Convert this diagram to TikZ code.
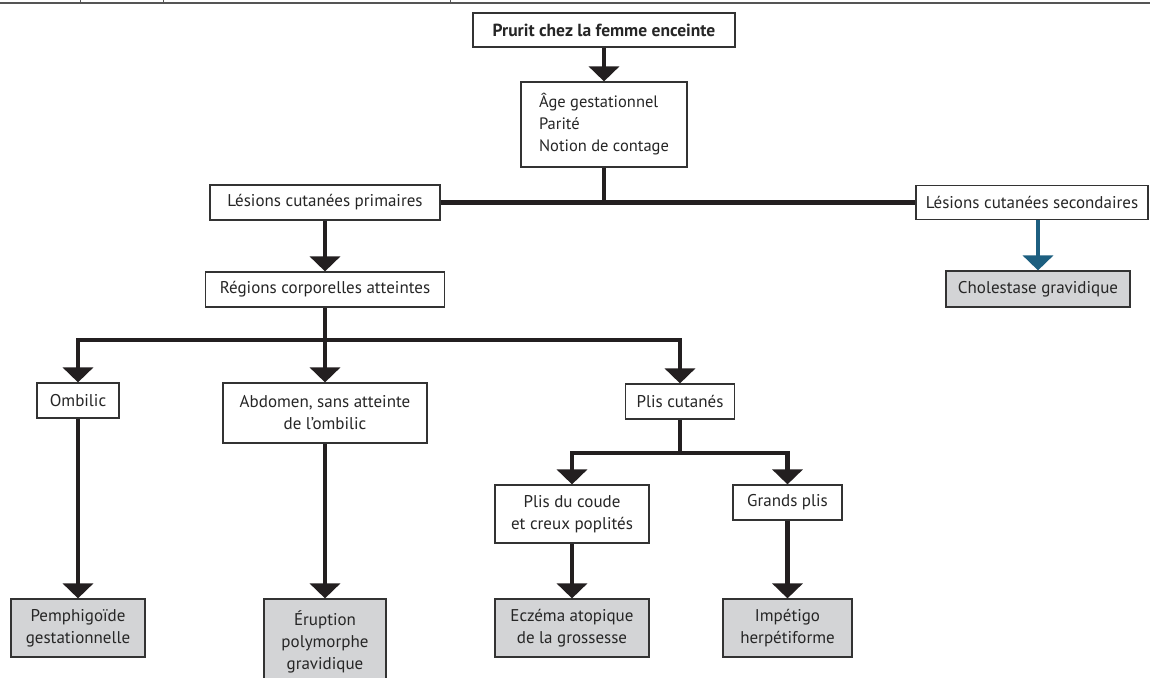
\documentclass[tikz,border=0pt]{standalone}
\usepackage{fontspec}
\setmainfont{PT Sans}
\usetikzlibrary{arrows.meta}
\definecolor{conn}{HTML}{231F20}
\definecolor{boxline}{HTML}{333333}
\definecolor{greyfill}{HTML}{D3D4D6}
\definecolor{bluearr}{HTML}{1D5F80}
\definecolor{rule}{HTML}{555555}
\begin{document}
\begin{tikzpicture}[x=1pt,y=-1pt,
  every node/.style={font=\fontsize{17}{22}\selectfont, text=black!85},
  box/.style={draw=boxline, line width=1.2pt, fill=white, inner sep=2pt, align=center},
  leaf/.style={box, fill=greyfill},
  link/.style={draw=conn, line width=4.5pt, line join=miter},
  arr/.style={link, -{Triangle[width=30pt,length=15pt]}},
  bluearrow/.style={draw=bluearr, line width=4.5pt, -{Triangle[width=30pt,length=15pt]}}
]
\useasboundingbox (0,0) rectangle (1150,677);
% top rule
\draw[rule, line width=1.5pt] (0,3) -- (1150,3);
\foreach \x in {80,163,450} \draw[rule, line width=1pt] (\x,0) -- (\x,3);

\node[box, minimum width=262pt, minimum height=34pt, font=\fontsize{17.5}{22}\selectfont\bfseries] (t) at (604,30) {Prurit chez la femme enceinte};
\node[box, minimum width=166pt, minimum height=85pt, align=left, font=\fontsize{16.5}{22}\selectfont] (b2) at (604,124.5) {Âge gestationnel\\Parité\\Notion de contage};
\node[box, minimum width=230pt, minimum height=35pt] (l1) at (325,202.5) {Lésions cutanées primaires};
\node[box, minimum width=232pt, minimum height=34pt] (l2) at (1032,202.5) {Lésions cutanées secondaires};
\node[box, minimum width=239pt, minimum height=35pt] (r) at (325,289.5) {Régions corporelles atteintes};
\node[leaf, minimum width=184pt, minimum height=36pt] (chol) at (1038,289) {Cholestase gravidique};
\node[box, minimum width=82pt, minimum height=35pt] (omb) at (78,400.5) {Ombilic};
\node[box, minimum width=204pt, minimum height=60pt] (abd) at (325,413) {Abdomen, sans atteinte\\de l’ombilic};
\node[box, minimum width=109pt, minimum height=35pt] (plis) at (680,401.5) {Plis cutanés};
\node[box, minimum width=154pt, minimum height=58pt] (pdc) at (572,514) {Plis du coude\\et creux poplités};
\node[box, minimum width=109pt, minimum height=35pt] (gp) at (787.5,502.5) {Grands plis};
\node[leaf, minimum width=134pt, minimum height=58pt] (pem) at (78,628) {Pemphigoïde\\gestationnelle};
\node[leaf, minimum width=122pt, minimum height=86pt] (eru) at (325,642) {Éruption\\polymorphe\\gravidique};
\node[leaf, minimum width=154pt, minimum height=58pt] (ecz) at (572,628) {Eczéma atopique\\de la grossesse};
\node[leaf, minimum width=129pt, minimum height=58pt] (imp) at (787.5,628) {Impétigo\\herpétiforme};

\coordinate (j1) at (325,340);
\coordinate (j2) at (680,453);

\draw[arr] (t.south) -- (b2.north);
\draw[link] (l1.east) -- (l2.west);
\draw[link] (b2.south) -- (b2.south |- l1.east);
\draw[arr] (l1.south) -- (r.north);
\draw[bluearrow] (l2.south -| chol.north) -- (chol.north);
\draw[link] (r.south) -- (j1);
\draw[arr] (j1) -| (omb.north);
\draw[arr] (j1) -- (abd.north);
\draw[arr] (j1) -| (plis.north);
\draw[link] (plis.south) -- (j2);
\draw[arr] (j2) -| (pdc.north);
\draw[arr] (j2) -| (gp.north);
\draw[arr] (omb.south) -- (pem.north);
\draw[arr] (abd.south) -- (eru.north);
\draw[arr] (pdc.south) -- (ecz.north);
\draw[arr] (gp.south) -- (imp.north);
\end{tikzpicture}
\end{document}
